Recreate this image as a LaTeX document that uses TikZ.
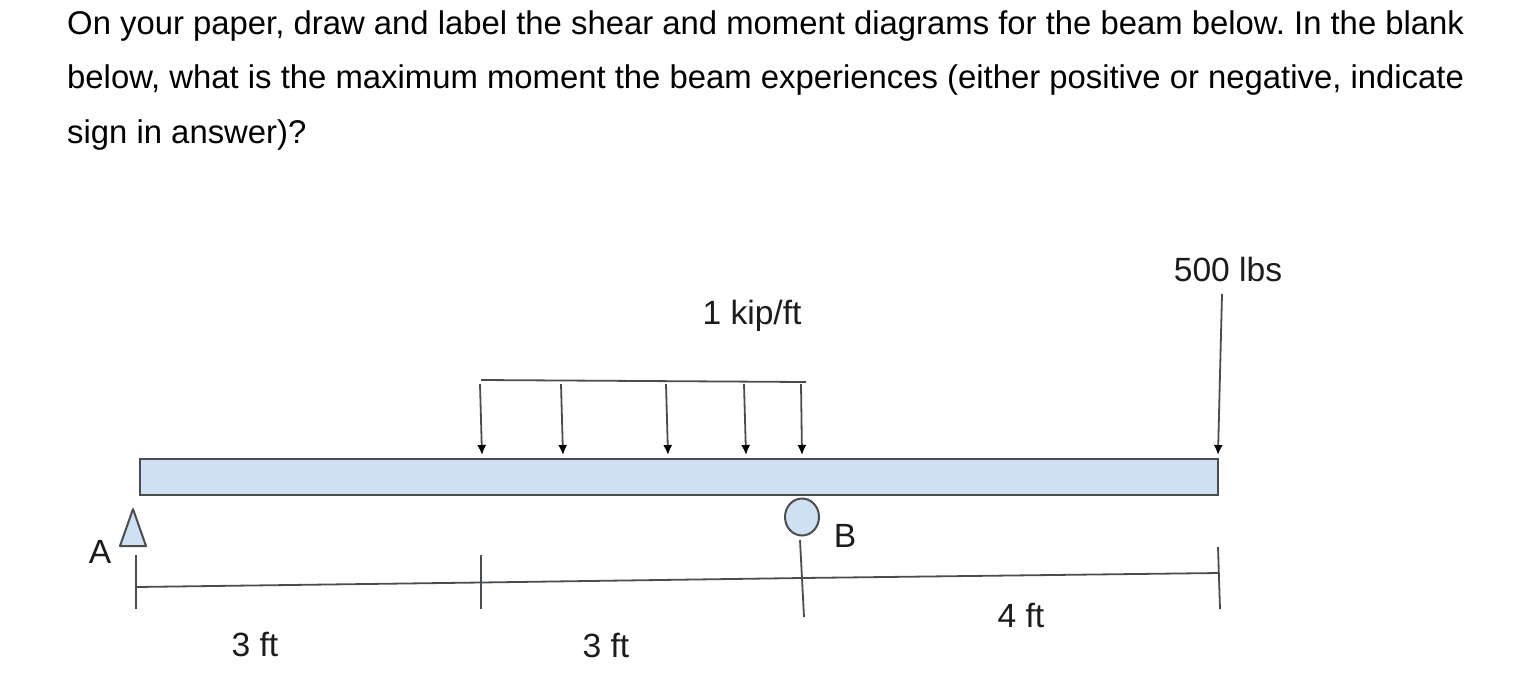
\documentclass[tikz,border=0pt]{standalone}
\usepackage{fontspec}
\setmainfont{Liberation Sans}
\usetikzlibrary{arrows.meta,shapes.geometric}
\definecolor{beamfill}{HTML}{CFE0F2}
\definecolor{edge}{HTML}{4A4D50}
\definecolor{inktext}{HTML}{1C1C1C}
\frenchspacing
\tikzset{
  x=1pt,y=-1pt,
  para/.style={anchor=base west,inner sep=0pt,font=\fontsize{32.85}{33}\selectfont,text=black},
  lab/.style={inner sep=0pt,font=\fontsize{33.6}{34}\selectfont,text=inktext},
  shp/.style={draw=edge,fill=beamfill,line width=2pt},
  wire/.style={draw=edge,line width=1.8pt},
  load/.style={wire,-{Latex[length=10pt,width=9pt,black]}}
}
\begin{document}
\begin{tikzpicture}
\useasboundingbox (0,0) rectangle (1533,694);
\fill[white] (0,0) rectangle (1533,694);
\node[para] (l1) at (67,34) {On your paper, draw and label the shear and moment diagrams for the beam below. In the blank};
\node[para] (l2) at (67,88.5) {below, what is the maximum moment the beam experiences (either positive or negative, indicate};
\node[para] (l3) at (67,143) {sign in answer)?};
% beam and supports
\node[shp,rectangle,minimum width=1078pt,minimum height=36pt,inner sep=0pt] (beam) at (679,477) {};
\node[shp,ellipse,inner sep=0pt,minimum width=34pt,minimum height=37pt] (roller) at (802,517) {};
\coordinate (tA) at (133,509);
\coordinate (tB) at (120,546);
\coordinate (tC) at (146,546);
\draw[shp,line join=round] (tA) -- (tB) -- (tC) -- cycle;
\node[lab] (A) at (100,552) {A};
\node[lab] (B) at (845,536) {B};
% distributed load
\coordinate (q0) at (481,380);
\coordinate (q1) at (806,382);
\draw[wire] (q0) -- (q1);
\foreach \n/\xa/\xb in {a/480/482,b/561/563,c/666/668,d/744/746,e/801/802}{
  \coordinate (s\n) at (\xa,384);
  \coordinate (f\n) at (\xb,455);
  \draw[load] (s\n) -- (f\n);
}
\node[lab] (q) at (752,316) {1 kip/ft};
% point load
\coordinate (p0) at (1222,294);
\coordinate (p1) at (1218,455);
\draw[load] (p0) -- (p1);
\node[lab] (P) at (1228,269.5) {500 lbs};
% dimension line
\coordinate (d0) at (136,587);
\coordinate (d1) at (481,582.5);
\coordinate (d2) at (802,578);
\coordinate (d3) at (1219,573);
\draw[wire] (d0) -- (d1) -- (d2) -- (d3);
\coordinate (k0a) at (136,555); \coordinate (k0b) at (136,609);
\coordinate (k1a) at (481,555); \coordinate (k1b) at (481,609);
\coordinate (k2a) at (800,540); \coordinate (k2b) at (804,617);
\coordinate (k3a) at (1218,547); \coordinate (k3b) at (1220,609);
\draw[wire] (k0a) -- (k0b);
\draw[wire] (k1a) -- (k1b);
\draw[wire] (k2a) -- (k2b);
\draw[wire] (k3a) -- (k3b);
\node[lab] (s1) at (255,644) {3 ft};
\node[lab] (s2) at (606,645) {3 ft};
\node[lab] (s3) at (1021,615.5) {4 ft};
\end{tikzpicture}
\end{document}
